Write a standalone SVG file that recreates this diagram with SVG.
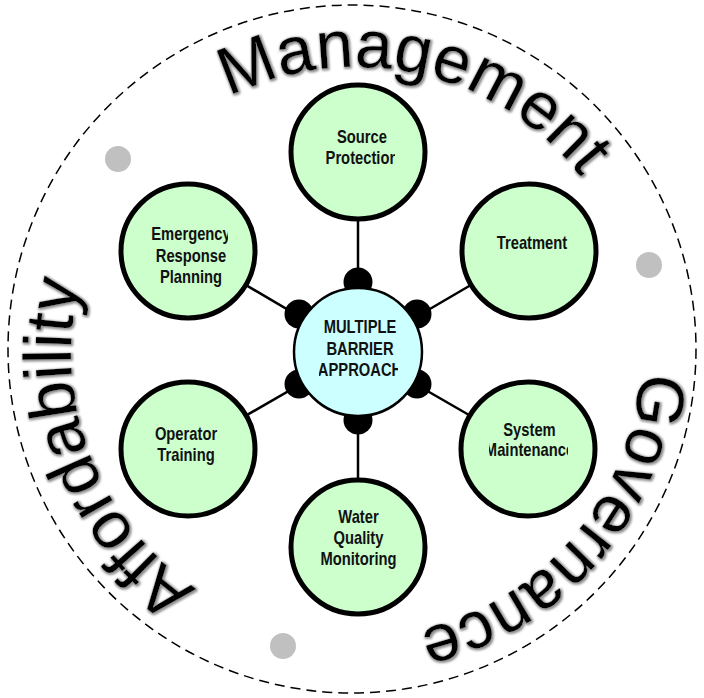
<svg xmlns="http://www.w3.org/2000/svg" width="704" height="698" viewBox="0 0 704 698">
<defs>
<style>
.ring{fill:none;stroke:#000;stroke-width:1.5;stroke-dasharray:10 6}
.gdot{fill:#c0c0c0}
.conn line{stroke:#000;stroke-width:2.5}
.bdot{fill:#000}
.node{fill:#ccffcc;stroke:#000;stroke-width:5}
.hub{fill:#ccffff;stroke:#000;stroke-width:2.5}
.lbl{font-family:"Liberation Sans",Arial,sans-serif;font-weight:bold;font-size:18px;fill:#111;text-anchor:middle}
.arc{font-family:"Liberation Sans",Arial,sans-serif;font-size:67px;fill:#000}
</style>
<filter id="glow" x="-5%" y="-5%" width="110%" height="110%">
<feMorphology in="SourceAlpha" operator="dilate" radius="1.2" result="d"/>
<feGaussianBlur in="d" stdDeviation="1.2" result="b"/>
<feOffset in="b" dx="0.5" dy="0.5" result="o"/>
<feFlood flood-color="#909090"/>
<feComposite in2="o" operator="in" result="s"/>
<feMerge><feMergeNode in="s"/><feMergeNode in="SourceGraphic"/></feMerge>
</filter>
<path id="textCircle" d="M356,637 A285,285 0 1 1 356,67 A285,285 0 1 1 356,637"/>
<clipPath id="cSrc" clipPathUnits="userSpaceOnUse"><rect x="318" y="100" width="77" height="120"/></clipPath>
<clipPath id="cTre" clipPathUnits="userSpaceOnUse"><rect x="490" y="200" width="79" height="120"/></clipPath>
<clipPath id="cSys" clipPathUnits="userSpaceOnUse"><rect x="489" y="400" width="79" height="120"/></clipPath>
<clipPath id="cWat" clipPathUnits="userSpaceOnUse"><rect x="319" y="495" width="79" height="120"/></clipPath>
<clipPath id="cOpe" clipPathUnits="userSpaceOnUse"><rect x="149" y="400" width="79" height="120"/></clipPath>
<clipPath id="cEme" clipPathUnits="userSpaceOnUse"><rect x="149" y="200" width="79" height="120"/></clipPath>
<clipPath id="cHub" clipPathUnits="userSpaceOnUse"><rect x="319" y="300" width="79" height="120"/></clipPath>
</defs>
<rect width="704" height="698" fill="#fff"/>
<circle class="ring" cx="352" cy="349" r="344"/>
<g id="grayDots">
<circle class="gdot" cx="118" cy="159" r="13"/>
<circle class="gdot" cx="649" cy="265" r="13"/>
<circle class="gdot" cx="283" cy="646" r="13"/>
</g>
<g id="arcText" filter="url(#glow)">
<text class="arc"><textPath href="#textCircle" startOffset="169">Affordability</textPath></text>
<text class="arc"><textPath href="#textCircle" startOffset="763">Management</textPath></text>
<text class="arc"><textPath href="#textCircle" startOffset="1362">Governance</textPath></text>
</g>
<g id="connectors" class="conn">
<line x1="358" y1="351" x2="358" y2="152"/>
<line x1="358" y1="351" x2="529" y2="251"/>
<line x1="358" y1="351" x2="528" y2="449"/>
<line x1="358" y1="351" x2="358" y2="547"/>
<line x1="358" y1="351" x2="188" y2="449"/>
<line x1="358" y1="351" x2="188" y2="251"/>
<circle class="bdot" cx="358" cy="282" r="14.5"/>
<circle class="bdot" cx="417" cy="314" r="14.5"/>
<circle class="bdot" cx="417" cy="384" r="14.5"/>
<circle class="bdot" cx="358" cy="420" r="14.5"/>
<circle class="bdot" cx="299" cy="384" r="14.5"/>
<circle class="bdot" cx="299" cy="314" r="14.5"/>
</g>
<g id="hub">
<circle class="hub" cx="358" cy="352" r="64"/>
<g clip-path="url(#cHub)">
<text class="lbl" transform="translate(360 0) scale(0.82 1)" x="0" y="333">MULTIPLE</text>
<text class="lbl" transform="translate(360 0) scale(0.82 1)" x="0" y="355">BARRIER</text>
<text class="lbl" transform="translate(360 0) scale(0.82 1)" x="0" y="376">APPROACH</text>
</g>
</g>
<g id="sourceProtection">
<circle class="node" cx="358" cy="152" r="67"/>
<g clip-path="url(#cSrc)">
<text class="lbl" transform="translate(362 0) scale(0.82 1)" x="0" y="143">Source</text>
<text class="lbl" transform="translate(362 0) scale(0.82 1)" x="0" y="164">Protection</text>
</g>
</g>
<g id="treatment">
<circle class="node" cx="529" cy="251" r="67"/>
<g clip-path="url(#cTre)">
<text class="lbl" transform="translate(532 0) scale(0.82 1)" x="0" y="249">Treatment</text>
</g>
</g>
<g id="systemMaintenance">
<circle class="node" cx="528" cy="449" r="67"/>
<g clip-path="url(#cSys)">
<text class="lbl" transform="translate(529.5 0) scale(0.82 1)" x="0" y="436">System</text>
<text class="lbl" transform="translate(529.5 0) scale(0.82 1)" x="0" y="456">Maintenance</text>
</g>
</g>
<g id="waterQualityMonitoring">
<circle class="node" cx="358" cy="547" r="67"/>
<g clip-path="url(#cWat)">
<text class="lbl" transform="translate(358.5 0) scale(0.82 1)" x="0" y="523">Water</text>
<text class="lbl" transform="translate(358.5 0) scale(0.82 1)" x="0" y="544">Quality</text>
<text class="lbl" transform="translate(358.5 0) scale(0.82 1)" x="0" y="565">Monitoring</text>
</g>
</g>
<g id="operatorTraining">
<circle class="node" cx="188" cy="449" r="67"/>
<g clip-path="url(#cOpe)">
<text class="lbl" transform="translate(186 0) scale(0.82 1)" x="0" y="440">Operator</text>
<text class="lbl" transform="translate(186 0) scale(0.82 1)" x="0" y="461">Training</text>
</g>
</g>
<g id="emergencyResponsePlanning">
<circle class="node" cx="188" cy="251" r="67"/>
<g clip-path="url(#cEme)">
<text class="lbl" transform="translate(191 0) scale(0.82 1)" x="0" y="240">Emergency</text>
<text class="lbl" transform="translate(191 0) scale(0.82 1)" x="0" y="262">Response</text>
<text class="lbl" transform="translate(191 0) scale(0.82 1)" x="0" y="283">Planning</text>
</g>
</g>
</svg>
